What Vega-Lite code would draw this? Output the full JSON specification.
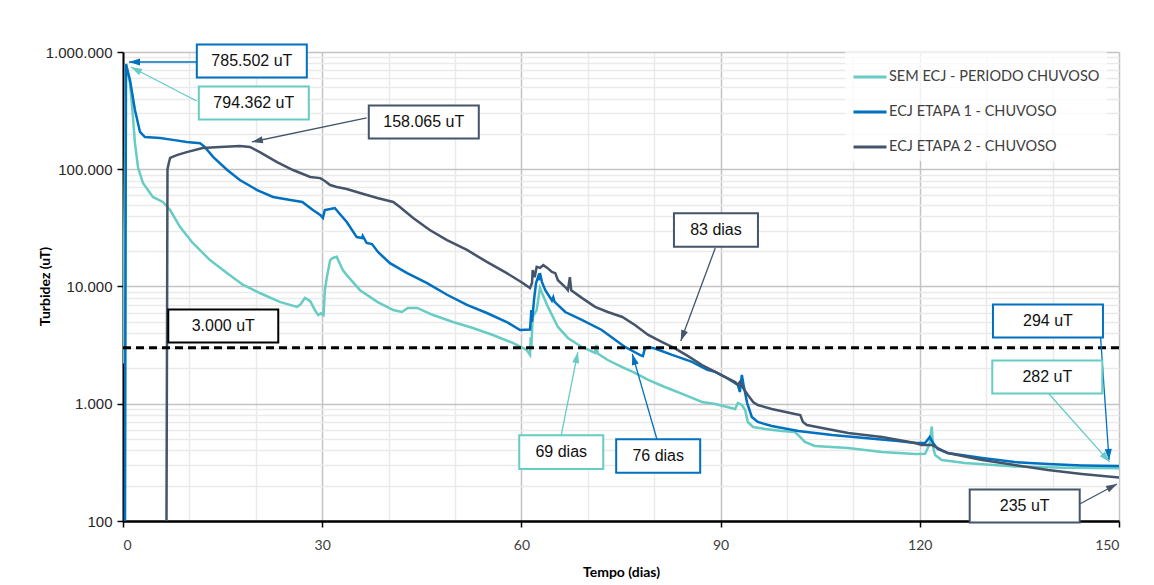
{
  "$schema": "https://vega.github.io/schema/vega-lite/v6.json",
  "width": 996,
  "height": 469,
  "autosize": {"type": "none"},
  "padding": {"left": 123, "top": 52, "right": 35, "bottom": 64},
  "background": "white",
  "config": {
    "locale": {"number": {"decimal": ",", "thousands": ".", "grouping": [3], "currency": ["R$", ""]}},
    "view": {"stroke": null}
  },
  "datasets": {
    "sem": [{"dia":0,"uT":2200},{"dia":0.45,"uT":794362},{"dia":1.05,"uT":545000},{"dia":1.5,"uT":279000},{"dia":1.8,"uT":167000},{"dia":2.26,"uT":104000},{"dia":3,"uT":76300},{"dia":4.5,"uT":58000},{"dia":6,"uT":52600},{"dia":7.1,"uT":44900},{"dia":8.6,"uT":32100},{"dia":10.5,"uT":23500},{"dia":13.1,"uT":16800},{"dia":15.7,"uT":13000},{"dia":18.1,"uT":10300},{"dia":20.6,"uT":8800},{"dia":23.6,"uT":7400},{"dia":26.2,"uT":6700},{"dia":26.7,"uT":7000},{"dia":27.4,"uT":8000},{"dia":28.2,"uT":7500},{"dia":28.9,"uT":6300},{"dia":29.4,"uT":5700},{"dia":29.8,"uT":5900},{"dia":30.2,"uT":5700},{"dia":30.4,"uT":9300},{"dia":30.7,"uT":12000},{"dia":31.2,"uT":16800},{"dia":31.6,"uT":17500},{"dia":32.2,"uT":17900},{"dia":32.4,"uT":16800},{"dia":33.1,"uT":13800},{"dia":33.7,"uT":12500},{"dia":35.7,"uT":9300},{"dia":38.3,"uT":7400},{"dia":40.7,"uT":6300},{"dia":42,"uT":6060},{"dia":42.9,"uT":6560},{"dia":44.3,"uT":6560},{"dia":46.7,"uT":5710},{"dia":49.7,"uT":4980},{"dia":52.7,"uT":4430},{"dia":55.7,"uT":3860},{"dia":58.7,"uT":3300},{"dia":60.2,"uT":2990},{"dia":60.8,"uT":2870},{"dia":61.3,"uT":2610},{"dia":61.4,"uT":3710},{"dia":61.5,"uT":3000},{"dia":61.7,"uT":5500},{"dia":62.3,"uT":6300},{"dia":62.8,"uT":9700},{"dia":63.1,"uT":8800},{"dia":64,"uT":6700},{"dia":65.5,"uT":4520},{"dia":67,"uT":3640},{"dia":69.1,"uT":3050},{"dia":71.1,"uT":2710},{"dia":71.3,"uT":3170},{"dia":71.5,"uT":2680},{"dia":73,"uT":2360},{"dia":75.1,"uT":2060},{"dia":77.1,"uT":1830},{"dia":79.1,"uT":1600},{"dia":81.6,"uT":1390},{"dia":84.6,"uT":1190},{"dia":87.2,"uT":1035},{"dia":89.2,"uT":995},{"dia":92.2,"uT":902},{"dia":92.6,"uT":1014},{"dia":93.2,"uT":976},{"dia":93.7,"uT":885},{"dia":94.1,"uT":699},{"dia":94.9,"uT":634},{"dia":96.7,"uT":610},{"dia":99.2,"uT":586},{"dia":101.2,"uT":574},{"dia":102,"uT":520},{"dia":102.7,"uT":472},{"dia":104.2,"uT":436},{"dia":109.2,"uT":420},{"dia":114.3,"uT":388},{"dia":119.3,"uT":372},{"dia":120.8,"uT":375},{"dia":121.2,"uT":420},{"dia":121.5,"uT":462},{"dia":121.8,"uT":640},{"dia":122,"uT":428},{"dia":122.3,"uT":366},{"dia":123.3,"uT":331},{"dia":126.8,"uT":312},{"dia":134.3,"uT":292},{"dia":141.9,"uT":285},{"dia":150,"uT":282}],
    "e1": [{"dia":0.3,"uT":100},{"dia":0.45,"uT":785502},{"dia":1.05,"uT":577000},{"dia":1.8,"uT":320000},{"dia":2.56,"uT":208000},{"dia":3.3,"uT":188000},{"dia":5.6,"uT":185000},{"dia":7.5,"uT":178000},{"dia":9.6,"uT":171000},{"dia":11.6,"uT":167000},{"dia":12.3,"uT":155000},{"dia":13.6,"uT":127000},{"dia":15.7,"uT":98500},{"dia":17.6,"uT":81000},{"dia":20.2,"uT":66500},{"dia":22.6,"uT":58000},{"dia":25.2,"uT":54700},{"dia":27,"uT":52600},{"dia":28.6,"uT":44900},{"dia":29.7,"uT":40700},{"dia":30.1,"uT":38400},{"dia":30.4,"uT":44900},{"dia":31.2,"uT":45800},{"dia":31.9,"uT":46700},{"dia":32.4,"uT":43200},{"dia":33.7,"uT":35500},{"dia":35.2,"uT":26400},{"dia":36,"uT":25900},{"dia":36.1,"uT":27000},{"dia":36.7,"uT":23500},{"dia":37.5,"uT":23000},{"dia":38.4,"uT":19700},{"dia":40.2,"uT":15800},{"dia":42.8,"uT":13000},{"dia":45.8,"uT":10700},{"dia":48.8,"uT":8500},{"dia":51.8,"uT":6960},{"dia":54.8,"uT":5940},{"dia":57.8,"uT":4980},{"dia":59.8,"uT":4260},{"dia":61.3,"uT":4300},{"dia":61.5,"uT":6300},{"dia":61.6,"uT":5000},{"dia":61.9,"uT":7700},{"dia":62.2,"uT":10700},{"dia":62.5,"uT":12000},{"dia":62.6,"uT":11300},{"dia":62.8,"uT":13000},{"dia":63.1,"uT":10900},{"dia":63.6,"uT":9300},{"dia":64.6,"uT":7600},{"dia":64.8,"uT":8100},{"dia":65,"uT":7400},{"dia":66.6,"uT":6060},{"dia":69.1,"uT":5180},{"dia":72.1,"uT":4260},{"dia":75.6,"uT":3050},{"dia":77.1,"uT":2750},{"dia":77.9,"uT":2600},{"dia":78.3,"uT":2550},{"dia":78.6,"uT":2960},{"dia":79.1,"uT":3050},{"dia":80.1,"uT":2960},{"dia":82.7,"uT":2610},{"dia":85.7,"uT":2280},{"dia":88,"uT":1950},{"dia":89.2,"uT":1870},{"dia":90.7,"uT":1690},{"dia":92.2,"uT":1500},{"dia":92.6,"uT":1450},{"dia":92.9,"uT":1260},{"dia":93.2,"uT":1760},{"dia":93.5,"uT":1400},{"dia":94,"uT":1014},{"dia":94.7,"uT":771},{"dia":95.6,"uT":699},{"dia":97.7,"uT":646},{"dia":101.7,"uT":586},{"dia":106.8,"uT":541},{"dia":111.7,"uT":510},{"dia":116.7,"uT":481},{"dia":119.3,"uT":462},{"dia":120.8,"uT":462},{"dia":121.5,"uT":520},{"dia":122,"uT":462},{"dia":122.7,"uT":411},{"dia":124.2,"uT":380},{"dia":129.4,"uT":345},{"dia":134.3,"uT":318},{"dia":139.3,"uT":306},{"dia":144.4,"uT":298},{"dia":150,"uT":294}],
    "e2": [{"dia":6.55,"uT":100},{"dia":6.7,"uT":100000},{"dia":6.9,"uT":113000},{"dia":7.1,"uT":125000},{"dia":8.1,"uT":132000},{"dia":9.6,"uT":140000},{"dia":12,"uT":152000},{"dia":14.6,"uT":155000},{"dia":17.6,"uT":158065},{"dia":19.1,"uT":155000},{"dia":20.6,"uT":140000},{"dia":23.2,"uT":115000},{"dia":25.6,"uT":98500},{"dia":28.2,"uT":85900},{"dia":29.7,"uT":84000},{"dia":30.4,"uT":79400},{"dia":31.2,"uT":73400},{"dia":32.2,"uT":70600},{"dia":33.7,"uT":67900},{"dia":35.7,"uT":62700},{"dia":38.3,"uT":56900},{"dia":40.7,"uT":52600},{"dia":41.7,"uT":47700},{"dia":43.7,"uT":38400},{"dia":46.2,"uT":30300},{"dia":48.8,"uT":24900},{"dia":51.8,"uT":20500},{"dia":54.8,"uT":16200},{"dia":57.8,"uT":13000},{"dia":60.2,"uT":10700},{"dia":61.3,"uT":9700},{"dia":61.6,"uT":10700},{"dia":61.7,"uT":13800},{"dia":62,"uT":12000},{"dia":62.3,"uT":14700},{"dia":62.8,"uT":14400},{"dia":63.3,"uT":15200},{"dia":63.9,"uT":14400},{"dia":64.6,"uT":13300},{"dia":65.1,"uT":13000},{"dia":65.5,"uT":11300},{"dia":66.6,"uT":9900},{"dia":67,"uT":9300},{"dia":67.3,"uT":12000},{"dia":67.5,"uT":9300},{"dia":69.1,"uT":8000},{"dia":71.1,"uT":6700},{"dia":73,"uT":6060},{"dia":75.2,"uT":5500},{"dia":77.1,"uT":4700},{"dia":79.1,"uT":3860},{"dia":81.2,"uT":3350},{"dia":83,"uT":3000},{"dia":85.1,"uT":2550},{"dia":87.2,"uT":2140},{"dia":89.2,"uT":1870},{"dia":90.7,"uT":1690},{"dia":92.2,"uT":1530},{"dia":92.6,"uT":1450},{"dia":92.9,"uT":1530},{"dia":93.4,"uT":1360},{"dia":94.1,"uT":1190},{"dia":94.9,"uT":1035},{"dia":95.6,"uT":975},{"dia":97.7,"uT":902},{"dia":101.2,"uT":818},{"dia":102,"uT":802},{"dia":102.4,"uT":699},{"dia":103,"uT":659},{"dia":105.3,"uT":621},{"dia":109.2,"uT":564},{"dia":114.3,"uT":520},{"dia":119.3,"uT":462},{"dia":120.3,"uT":445},{"dia":121.8,"uT":445},{"dia":123.3,"uT":403},{"dia":124.2,"uT":380},{"dia":129.4,"uT":331},{"dia":134.3,"uT":300},{"dia":139.3,"uT":272},{"dia":144.4,"uT":252},{"dia":150,"uT":235}],
    "notas": [
      {"texto":"785.502 uT","tipo":"uT","serie":"e1","dia":19.4,"uT":838000,"dia0":11.1,"uT0":822000,"dia1":0.9,"uT1":822000},
      {"texto":"794.362 uT","tipo":"uT","serie":"sem","dia":19.7,"uT":367000,"dia0":11.1,"uT0":382000,"dia1":1.2,"uT1":745000},
      {"texto":"158.065 uT","tipo":"uT","serie":"e2","dia":45.3,"uT":253000,"dia0":36.7,"uT0":274000,"dia1":19.4,"uT1":171000},
      {"texto":"3.000 uT","tipo":"uT","serie":"lim","dia":15.1,"uT":4600,"dia0":null,"uT0":null,"dia1":null,"uT1":null},
      {"texto":"83 dias","tipo":"dias","serie":"e2","dia":89.3,"uT":30300,"dia0":89.2,"uT0":21300,"dia1":84.0,"uT1":3430},
      {"texto":"69 dias","tipo":"dias","serie":"sem","dia":66.0,"uT":387,"dia0":66.0,"uT0":541,"dia1":68.5,"uT1":2760},
      {"texto":"76 dias","tipo":"dias","serie":"e1","dia":80.6,"uT":358,"dia0":80.4,"uT0":500,"dia1":76.7,"uT1":2660},
      {"texto":"294 uT","tipo":"uT","serie":"e1","dia":139.3,"uT":5080,"dia0":147.1,"uT0":4700,"dia1":148.5,"uT1":331},
      {"texto":"282 uT","tipo":"uT","serie":"sem","dia":139.2,"uT":1690,"dia0":139.3,"uT0":1240,"dia1":148.6,"uT1":318},
      {"texto":"235 uT","tipo":"uT","serie":"e2","dia":135.8,"uT":134,"dia0":143.8,"uT0":137,"dia1":149.7,"uT1":207}
    ]
  },
  "layer": [
    {
      "data": {"name": "sem"},
      "mark": {"type": "line", "strokeWidth": 2.5, "clip": true},
      "encoding": {
        "x": {"field": "dia", "type": "quantitative", "scale": {"type": "linear", "domain": [0, 150], "nice": false, "zero": false},
          "axis": {
            "values": [0,10,20,30,40,50,60,70,80,90,100,110,120,130,140,150],
            "labelExpr": "datum.value % 30 === 0 ? datum.label : ''",
            "gridColor": {"condition": {"test": "datum.value % 30 === 0", "value": "#C3C3C3"}, "value": "#EAEAEA"},
            "gridWidth": 1.5,
            "tickOpacity": {"condition": {"test": "datum.value % 30 === 0", "value": 1}, "value": 0},
            "tickColor": "#000000", "tickSize": 6, "tickWidth": 1.5,
            "domainColor": "#000000", "domainWidth": 2.5,
            "labelFont": "Lato", "labelFontSize": 14, "labelColor": "#404040", "labelPadding": 11,
            "title": "Tempo (dias)", "titleFont": "Lato", "titleFontSize": 14, "titleFontWeight": "bold", "titleColor": "#000000",
            "titleX": 498, "titleY": 51, "titleBaseline": "middle", "titleAlign": "center"
          }},
        "y": {"field": "uT", "type": "quantitative", "scale": {"type": "log", "domain": [100, 1000000], "nice": false},
          "axis": {
            "values": [100,200,300,400,500,600,700,800,900,1000,2000,3000,4000,5000,6000,7000,8000,9000,10000,20000,30000,40000,50000,60000,70000,80000,90000,100000,200000,300000,400000,500000,600000,700000,800000,900000,1000000],
            "format": ",.0f",
            "labelExpr": "abs(log(datum.value)/LN10 - round(log(datum.value)/LN10)) < 0.001 ? datum.label : ''",
            "gridColor": {"condition": {"test": "abs(log(datum.value)/LN10 - round(log(datum.value)/LN10)) < 0.001", "value": "#C3C3C3"}, "value": "#EAEAEA"},
            "gridWidth": 1.5,
            "tickOpacity": {"condition": {"test": "abs(log(datum.value)/LN10 - round(log(datum.value)/LN10)) < 0.001", "value": 1}, "value": 0},
            "tickColor": "#000000", "tickSize": 6, "tickWidth": 1.5,
            "domainColor": "#000000", "domainWidth": 2,
            "labelFont": "Liberation Sans", "labelFontSize": 15, "labelColor": "#262626", "labelPadding": 5,
            "title": "Turbidez (uT)", "titleFont": "Lato", "titleFontSize": 14, "titleFontWeight": "bold", "titleColor": "#000000",
            "titleX": -78, "titleY": 234, "titleBaseline": "middle", "titleAlign": "center", "titleAngle": 270
          }},
        "color": {"datum": "SEM ECJ - PERIODO CHUVOSO", "type": "nominal",
          "scale": {"domain": ["SEM ECJ - PERIODO CHUVOSO", "ECJ ETAPA 1 - CHUVOSO", "ECJ ETAPA 2 - CHUVOSO"], "range": ["#66CCC4", "#0070C0", "#44546A"]},
          "legend": {"orient": "none", "legendX": 722, "legendY": 0, "title": null, "symbolType": "stroke", "symbolSize": 1089, "symbolStrokeWidth": 3,
            "labelFont": "Lato", "labelFontSize": 14.5, "labelColor": "#404040", "labelLimit": 400, "rowPadding": 10, "labelOffset": 1, "padding": 7, "fillColor": "rgba(255,255,255,0.75)"}}
      }
    },
    {
      "data": {"name": "e1"},
      "mark": {"type": "line", "strokeWidth": 2.5, "clip": true},
      "encoding": {
        "x": {"field": "dia", "type": "quantitative", "scale": {"type": "linear", "domain": [0, 150], "nice": false, "zero": false}},
        "y": {"field": "uT", "type": "quantitative", "scale": {"type": "log", "domain": [100, 1000000], "nice": false}},
        "color": {"datum": "ECJ ETAPA 1 - CHUVOSO", "type": "nominal"}
      }
    },
    {
      "data": {"name": "e2"},
      "mark": {"type": "line", "strokeWidth": 2.5, "clip": true},
      "encoding": {
        "x": {"field": "dia", "type": "quantitative", "scale": {"type": "linear", "domain": [0, 150], "nice": false, "zero": false}},
        "y": {"field": "uT", "type": "quantitative", "scale": {"type": "log", "domain": [100, 1000000], "nice": false}},
        "color": {"datum": "ECJ ETAPA 2 - CHUVOSO", "type": "nominal"}
      }
    },
    {
      "data": {"values": [{"limite": 3000}]},
      "mark": {"type": "rule", "color": "#000000", "strokeWidth": 3, "strokeDash": [8, 5]},
      "encoding": {
        "y": {"field": "limite", "type": "quantitative", "scale": {"type": "log", "domain": [100, 1000000], "nice": false}}
      }
    },
    {
      "data": {"name": "notas"},
      "transform": [{"filter": "datum.dia0 != null"}],
      "mark": {"type": "rule", "strokeWidth": 1.3},
      "encoding": {
        "x": {"field": "dia0", "type": "quantitative", "scale": {"type": "linear", "domain": [0, 150], "nice": false, "zero": false}},
        "y": {"field": "uT0", "type": "quantitative", "scale": {"type": "log", "domain": [100, 1000000], "nice": false}},
        "x2": {"field": "dia1"},
        "y2": {"field": "uT1"},
        "stroke": {"field": "serie", "type": "nominal", "scale": {"domain": ["sem", "e1", "e2", "lim"], "range": ["#66CCC4", "#0070C0", "#44546A", "#000000"]}, "legend": null}
      }
    },
    {
      "data": {"name": "notas"},
      "transform": [
        {"filter": "datum.dia0 != null"},
        {"calculate": "atan2((datum.dia1 - datum.dia0) * 6.64, (log(datum.uT1) - log(datum.uT0)) / LN10 * 117.25) * 180 / PI", "as": "ang"}
      ],
      "mark": {"type": "point", "shape": "M0,0L0.32,1L-0.32,1Z", "size": 484, "filled": true, "opacity": 1, "strokeWidth": 0},
      "encoding": {
        "x": {"field": "dia1", "type": "quantitative", "scale": {"type": "linear", "domain": [0, 150], "nice": false, "zero": false}},
        "y": {"field": "uT1", "type": "quantitative", "scale": {"type": "log", "domain": [100, 1000000], "nice": false}},
        "angle": {"field": "ang", "type": "quantitative", "scale": null},
        "fill": {"field": "serie", "type": "nominal", "scale": {"domain": ["sem", "e1", "e2", "lim"], "range": ["#66CCC4", "#0070C0", "#44546A", "#000000"]}, "legend": null}
      }
    },
    {
      "data": {"name": "notas"},
      "transform": [{"filter": "datum.tipo == 'uT'"}],
      "mark": {"type": "point", "shape": "M-1,-0.3H1V0.3H-1Z", "size": 12100, "fill": "#FFFFFF", "filled": false, "opacity": 1, "fillOpacity": 1, "strokeWidth": 2},
      "encoding": {
        "x": {"field": "dia", "type": "quantitative", "scale": {"type": "linear", "domain": [0, 150], "nice": false, "zero": false}},
        "y": {"field": "uT", "type": "quantitative", "scale": {"type": "log", "domain": [100, 1000000], "nice": false}},
        "stroke": {"field": "serie", "type": "nominal"}
      }
    },
    {
      "data": {"name": "notas"},
      "transform": [{"filter": "datum.tipo == 'dias'"}],
      "mark": {"type": "point", "shape": "M-1,-0.4H1V0.4H-1Z", "size": 7056, "fill": "#FFFFFF", "filled": false, "opacity": 1, "fillOpacity": 1, "strokeWidth": 2},
      "encoding": {
        "x": {"field": "dia", "type": "quantitative", "scale": {"type": "linear", "domain": [0, 150], "nice": false, "zero": false}},
        "y": {"field": "uT", "type": "quantitative", "scale": {"type": "log", "domain": [100, 1000000], "nice": false}},
        "stroke": {"field": "serie", "type": "nominal"}
      }
    },
    {
      "data": {"name": "notas"},
      "mark": {"type": "text", "font": "Liberation Sans", "fontSize": 16, "color": "#111111", "align": "center", "baseline": "middle"},
      "encoding": {
        "x": {"field": "dia", "type": "quantitative", "scale": {"type": "linear", "domain": [0, 150], "nice": false, "zero": false}},
        "y": {"field": "uT", "type": "quantitative", "scale": {"type": "log", "domain": [100, 1000000], "nice": false}},
        "text": {"field": "texto"}
      }
    }
  ]
}
